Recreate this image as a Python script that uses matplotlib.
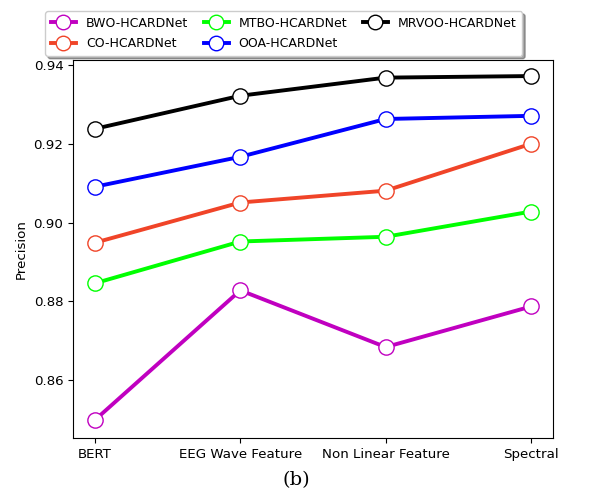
import matplotlib.pyplot as plt

features = ["BERT", "EEG Wave Feature", "Non Linear Feature", "Spectral"]

bwo = [0.8499, 0.8828, 0.8684, 0.8787]
co = [0.8949, 0.9051, 0.9081, 0.9200]
mtbo = [0.8846, 0.8952, 0.8964, 0.9028]
ooa = [0.9091, 0.9167, 0.9263, 0.9271]
mrvoo = [0.9238, 0.9322, 0.9368, 0.9372]

series = [
    ("BWO-HCARDNet", bwo, "#c000c0"),
    ("CO-HCARDNet", co, "#f04428"),
    ("MTBO-HCARDNet", mtbo, "#00ff00"),
    ("OOA-HCARDNet", ooa, "#0000ff"),
    ("MRVOO-HCARDNet", mrvoo, "#000000"),
]

fig = plt.figure(figsize=(5.9, 4.95), dpi=100)
ax = fig.add_axes([0.124, 0.115, 0.813, 0.764])

x = range(len(features))
for name, vals, color in series:
    ax.plot(x, vals, color=color, lw=2.8, marker="o", markersize=11,
            markerfacecolor="white", markeredgecolor=color, markeredgewidth=1.0,
            label=name)

ax.set_xticks(list(x))
ax.set_xticklabels(features, fontsize=9.6)
ax.set_yticks([0.86, 0.88, 0.90, 0.92, 0.94])
ax.tick_params(axis="y", labelsize=9.6)
ax.set_ylim(0.8453, 0.9413)
ax.set_ylabel("Precision", fontsize=9.6)

fig.legend(loc="upper left", bbox_to_anchor=(0.066, 0.99), ncol=3,
           fontsize=9, shadow=True, handlelength=2.0, columnspacing=1.25,
           borderpad=0.45, labelspacing=0.6, markerscale=0.95)

fig.text(0.503, 0.03, "(b)", ha="center", va="center",
         family="serif", fontsize=14)

fig.savefig("out.png", dpi=100)
